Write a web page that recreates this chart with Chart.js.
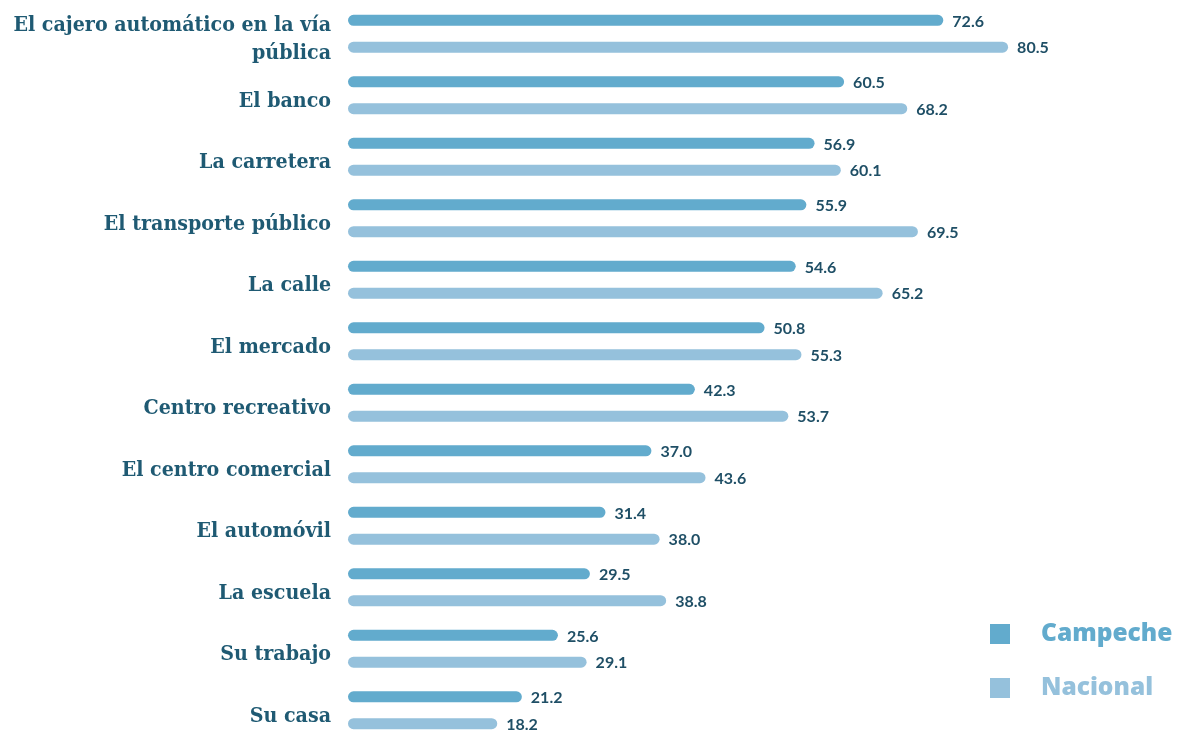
<!DOCTYPE html>
<html>
<head>
<meta charset="utf-8">
<script src="https://cdn.jsdelivr.net/npm/chart.js@4/dist/chart.umd.min.js"></script>
<style>
  html, body { margin: 0; padding: 0; background: #ffffff; overflow: hidden; }
  #wrap { position: relative; width: 1177px; height: 742px; }
</style>
</head>
<body>
<div id="wrap"><canvas id="c"></canvas></div>
<script>
const categories = [
  ["El cajero automático en la vía", "pública"],
  "El banco",
  "La carretera",
  "El transporte público",
  "La calle",
  "El mercado",
  "Centro recreativo",
  "El centro comercial",
  "El automóvil",
  "La escuela",
  "Su trabajo",
  "Su casa"
];
const campeche = [72.6, 60.5, 56.9, 55.9, 54.6, 50.8, 42.3, 37.0, 31.4, 29.5, 25.6, 21.2];
const nacional = [80.5, 68.2, 60.1, 69.5, 65.2, 55.3, 53.7, 43.6, 38.0, 38.8, 29.1, 18.2];
const seriesNames = ["Campeche", "Nacional"];
const seriesColors = ["#62abcd", "#95c1dc"];

const TEXT = "#1f5a73";

const valueLabels = {
  id: 'valueLabels',
  afterDatasetsDraw(chart) {
    const ctx = chart.ctx;
    ctx.save();
    ctx.font = "bold 16px Lato, 'Noto Sans', sans-serif";
    ctx.fillStyle = "#1f4f66";
    ctx.textAlign = "left";
    ctx.textBaseline = "middle";
    chart.data.datasets.forEach((ds, di) => {
      const meta = chart.getDatasetMeta(di);
      meta.data.forEach((el, i) => {
        ctx.fillText(ds.data[i].toFixed(1), el.x + 9, el.y + 1);
      });
    });
    ctx.restore();
  }
};

const sideLegend = {
  id: 'sideLegend',
  afterDraw(chart) {
    const ctx = chart.ctx;
    ctx.save();
    ctx.textAlign = "left";
    ctx.textBaseline = "middle";
    ctx.font = "800 24.5px 'Open Sans', Lato, sans-serif";
    chart.data.datasets.forEach((ds, di) => {
      const y = 634 + di * 54;
      ctx.fillStyle = ds.backgroundColor;
      ctx.fillRect(990, y - 10, 20, 20);
      ctx.fillText(ds.label, 1041, y);
    });
    ctx.restore();
  }
};

new Chart(document.getElementById('c'), {
  type: 'bar',
  data: {
    labels: categories,
    datasets: [
      { label: seriesNames[0], data: campeche, backgroundColor: seriesColors[0] },
      { label: seriesNames[1], data: nacional, backgroundColor: seriesColors[1] }
    ]
  },
  options: {
    indexAxis: 'y',
    responsive: true,
    maintainAspectRatio: false,
    animation: false,
    layout: { padding: { top: 3, bottom: 1, left: 0, right: 9 } },
    datasets: {
      bar: {
        maxBarThickness: 11,
        categoryPercentage: 0.87,
        barPercentage: 1,
        borderRadius: 6,
        borderSkipped: false,
        clip: false
      }
    },
    plugins: {
      legend: { display: false },
      tooltip: { enabled: false }
    },
    scales: {
      x: {
        display: false,
        min: 0,
        max: 100
      },
      y: {
        grid: { display: false, drawTicks: false },
        border: { display: false },
        afterFit(scale) {
          scale.width = 348;
          scale.paddingTop = 0;
          scale.paddingBottom = 0;
        },
        ticks: {
          padding: 17,
          labelOffset: 6,
          color: TEXT,
          font: { family: "'DejaVu Serif Condensed', 'DejaVu Serif', serif", weight: 'bold', size: 21.2, lineHeight: 1.3 }
        }
      }
    }
  },
  plugins: [valueLabels, sideLegend]
});
</script>
</body>
</html>
